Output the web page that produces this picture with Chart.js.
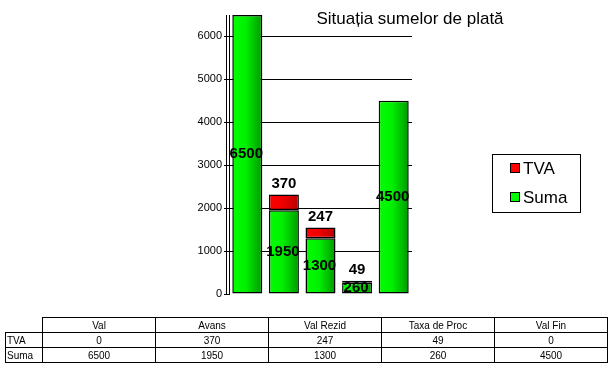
<!DOCTYPE html>
<html>
<head>
<meta charset="utf-8">
<script src="https://cdn.jsdelivr.net/npm/chart.js@4/dist/chart.umd.min.js"></script>
<style>
  html, body { margin: 0; padding: 0; background: #fff; }
  #wrap { position: relative; width: 615px; height: 372px; overflow: hidden; }
  #chart { position: absolute; left: 0; top: 0; }
  #dataTable {
    position: absolute; left: 5px; top: 317px;
    border-collapse: collapse; table-layout: fixed;
    font-family: Arial, "Liberation Sans", sans-serif; font-size: 10px; color: #000;
  }
  #dataTable td { border: 1px solid #000; padding: 0 2px; height: 14px; text-align: center; white-space: nowrap; }
  #dataTable td.rowHead { text-align: left; padding-left: 1px; }
  #dataTable td.blank { border: none; }
</style>
</head>
<body>
<div id="wrap">
  <canvas id="chart" width="615" height="372"></canvas>
  <table id="dataTable"></table>
</div>
<script>
const categories = ["Val", "Avans", "Val Rezid", "Taxa de Proc", "Val Fin"];
const tvaValues = [0, 370, 247, 49, 0];
const sumaValues = [6500, 1950, 1300, 260, 4500];
const yTickValues = [0, 1000, 2000, 3000, 4000, 5000, 6000];
const yMax = 6500;
const chartTitle = "Situația sumelor de plată";

const BAR_PCT = 0.82;

// horizontal gradient per bar, like the old Excel-style shading
function barGradient(light, mid, dark) {
  return (ctx) => {
    const chart = ctx.chart;
    const xs = chart.scales.x;
    if (ctx.type !== "data" || !xs || !xs.width) return light;
    const cx = xs.getPixelForValue(ctx.dataIndex);
    const w = (xs.width / categories.length) * BAR_PCT;
    const g = chart.ctx.createLinearGradient(cx - w / 2, 0, cx + w / 2, 0);
    g.addColorStop(0, light);
    g.addColorStop(0.45, mid);
    g.addColorStop(1, dark);
    return g;
  };
}

// table under the chart
const table = document.getElementById("dataTable");
let html = '<colgroup><col style="width:37px">';
categories.forEach(() => (html += '<col style="width:113px">'));
html += "</colgroup><tr><td class='blank'></td>";
categories.forEach((c) => (html += "<td>" + c + "</td>"));
html += "</tr><tr><td class='rowHead'>TVA</td>";
tvaValues.forEach((v) => (html += "<td>" + v + "</td>"));
html += "</tr><tr><td class='rowHead'>Suma</td>";
sumaValues.forEach((v) => (html += "<td>" + v + "</td>"));
html += "</tr>";
table.innerHTML = html;

const valueLabels = {
  id: "valueLabels",
  afterDatasetsDraw(chart) {
    const c = chart.ctx;
    c.save();
    c.font = "bold 15px Arial, 'Liberation Sans', sans-serif";
    c.fillStyle = "#000";
    c.textAlign = "center";
    chart.data.datasets.forEach((ds, i) => {
      const meta = chart.getDatasetMeta(i);
      meta.data.forEach((el, j) => {
        const v = ds.data[j];
        if (!v) return;
        if (ds.label === "Suma") {
          c.textBaseline = "middle";
          c.fillText(String(v), el.x - 1, (el.y + el.base) / 2);
        } else {
          c.textBaseline = "bottom";
          c.fillText(String(v), el.x, el.y - 3);
        }
      });
    });
    c.restore();
  },
};

const extras = {
  id: "extras",
  afterDraw(chart) {
    const c = chart.ctx;
    const area = chart.chartArea;
    c.save();
    // second axis line
    c.strokeStyle = "#000";
    c.lineWidth = 1;
    c.beginPath();
    c.moveTo(area.left - 2.5, area.top);
    c.lineTo(area.left - 2.5, area.bottom);
    c.stroke();

    // title
    c.font = "17px Arial, 'Liberation Sans', sans-serif";
    c.fillStyle = "#000";
    c.textAlign = "center";
    c.textBaseline = "middle";
    c.fillText(chartTitle, 410, 19);

    // legend box
    c.strokeRect(492.5, 154.5, 88, 58);
    c.font = "17px Arial, 'Liberation Sans', sans-serif";
    c.textAlign = "left";
    const items = [chart.data.datasets[1], chart.data.datasets[0]];
    items.forEach((ds, k) => {
      const y = 168 + k * 29;
      c.fillStyle = ds.legendColor;
      c.fillRect(510, y - 5, 10, 10);
      c.strokeRect(510.5, y - 4.5, 9, 9);
      c.fillStyle = "#000";
      c.fillText(ds.label, 523, y + 1);
    });
    c.restore();
  },
};

new Chart(document.getElementById("chart").getContext("2d"), {
  type: "bar",
  data: {
    labels: categories,
    datasets: [
      {
        label: "Suma",
        data: sumaValues,
        legendColor: "#00ff00",
        backgroundColor: barGradient("#00ff00", "#00f000", "#009800"),
        borderColor: "#000",
        borderWidth: 1.5,
        borderSkipped: false,
      },
      {
        label: "TVA",
        data: tvaValues,
        legendColor: "#ff0000",
        backgroundColor: barGradient("#ff0000", "#f00000", "#b80000"),
        borderColor: "#000",
        borderWidth: 1.5,
        borderSkipped: false,
      },
    ],
  },
  options: {
    responsive: false,
    animation: false,
    devicePixelRatio: 1,
    layout: { padding: { left: 0, right: 203, top: 15, bottom: 78 } },
    datasets: { bar: { categoryPercentage: 1, barPercentage: BAR_PCT } },
    scales: {
      x: { stacked: true, display: false },
      y: {
        stacked: true,
        min: 0,
        max: yMax,
        afterBuildTicks(scale) {
          scale.ticks = yTickValues.map((v) => ({ value: v }));
        },
        afterFit(scale) {
          scale.width = 229;
        },
        grid: {
          color: (ctx) => (ctx.tick && ctx.tick.value === 0 ? "rgba(0,0,0,0)" : "#000"),
          tickColor: "#000",
          tickLength: 5,
          lineWidth: 1,
        },
        border: { display: true, color: "#000", width: 1 },
        ticks: {
          padding: 2,
          color: "#000",
          font: { family: "Arial, 'Liberation Sans', sans-serif", size: 11 },
          callback: (v) => String(v),
        },
      },
    },
    plugins: {
      legend: { display: false },
      title: { display: false },
      tooltip: { enabled: false },
    },
  },
  plugins: [valueLabels, extras],
});
</script>
</body>
</html>
